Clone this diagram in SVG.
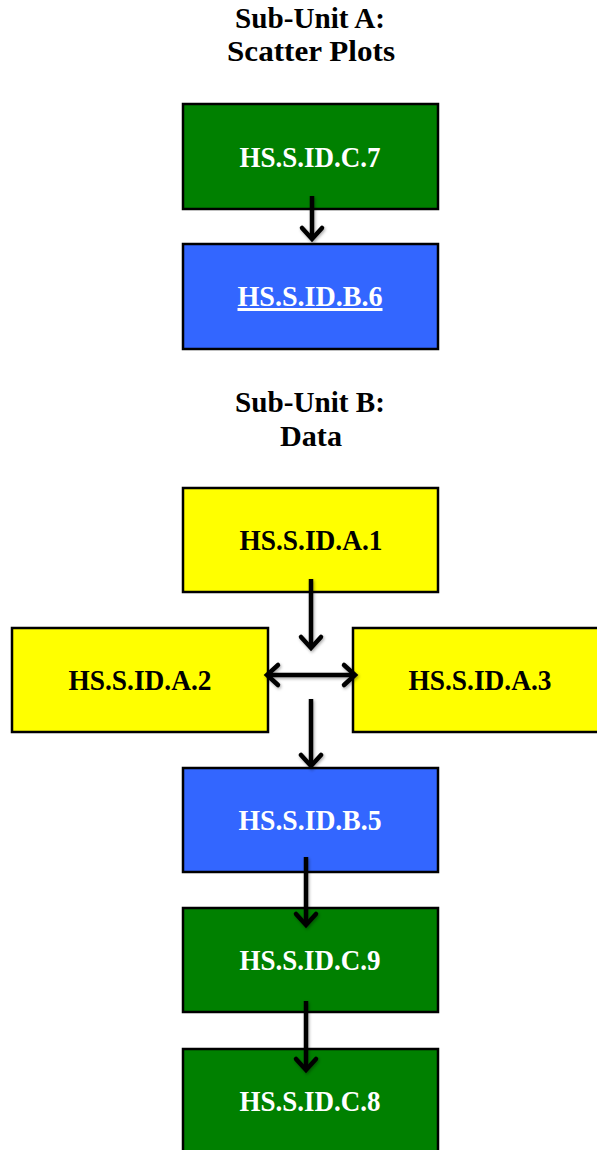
<svg xmlns="http://www.w3.org/2000/svg" width="597" height="1150" viewBox="0 0 597 1150">
  <style>
    .title { font-family: "Liberation Serif", "DejaVu Serif", serif; font-weight: bold; font-size: 29px; fill: #000; text-anchor: middle; }
    .lbl { font-family: "Liberation Serif", "DejaVu Serif", serif; font-weight: bold; font-size: 30px; text-anchor: middle; }
    .box { stroke: #000; stroke-width: 2.5; }
    .green { fill: #008000; }
    .blue { fill: #3366FF; }
    .yellow { fill: #FFFF00; }
    .w { fill: #FFFFFF; }
    .k { fill: #000000; }
    .arrow { stroke: #000; stroke-width: 4.5; fill: none; }
  </style>
  <defs>
    <filter id="shadow" x="-50%" y="-50%" width="200%" height="200%">
      <feDropShadow dx="1" dy="1.5" stdDeviation="1.5" flood-color="#000" flood-opacity="0.35"/>
    </filter>
    <marker id="head" markerUnits="userSpaceOnUse" viewBox="-16 -14 20 28" markerWidth="20" markerHeight="28" refX="0" refY="0" orient="auto-start-reverse">
      <path d="M-11,-10 L0,0 L-11,10" stroke="#000" stroke-width="4.5" fill="none" stroke-linecap="round" stroke-linejoin="miter"/>
    </marker>
  </defs>

  <g id="titleA">
    <text class="title" x="310" y="28" textLength="150" lengthAdjust="spacingAndGlyphs">Sub-Unit A:</text>
    <text class="title" x="311" y="61" textLength="168" lengthAdjust="spacingAndGlyphs">Scatter Plots</text>
  </g>
  <g id="titleB">
    <text class="title" x="310" y="412" textLength="150" lengthAdjust="spacingAndGlyphs">Sub-Unit B:</text>
    <text class="title" x="311" y="446" textLength="62" lengthAdjust="spacingAndGlyphs">Data</text>
  </g>

  <g id="n_C7">
    <rect class="box green" x="183" y="104" width="255" height="105"/>
    <text class="lbl w" x="310" y="167" textLength="141" lengthAdjust="spacingAndGlyphs">HS.S.ID.C.7</text>
  </g>
  <g id="n_B6">
    <rect class="box blue" x="183" y="244" width="255" height="105"/>
    <text class="lbl w" x="310" y="306" textLength="145" lengthAdjust="spacingAndGlyphs" text-decoration="underline">HS.S.ID.B.6</text>
  </g>
  <g id="n_A1">
    <rect class="box yellow" x="183" y="488" width="255" height="104"/>
    <text class="lbl k" x="311" y="550" textLength="143" lengthAdjust="spacingAndGlyphs">HS.S.ID.A.1</text>
  </g>
  <g id="n_A2">
    <rect class="box yellow" x="12" y="628" width="256" height="104"/>
    <text class="lbl k" x="140" y="690" textLength="143" lengthAdjust="spacingAndGlyphs">HS.S.ID.A.2</text>
  </g>
  <g id="n_A3">
    <rect class="box yellow" x="353" y="628" width="256" height="104"/>
    <text class="lbl k" x="480" y="690" textLength="143" lengthAdjust="spacingAndGlyphs">HS.S.ID.A.3</text>
  </g>
  <g id="n_B5">
    <rect class="box blue" x="183" y="768" width="255" height="104"/>
    <text class="lbl w" x="310" y="830" textLength="143" lengthAdjust="spacingAndGlyphs">HS.S.ID.B.5</text>
  </g>
  <g id="n_C9">
    <rect class="box green" x="183" y="908" width="255" height="104"/>
    <text class="lbl w" x="310" y="970" textLength="141" lengthAdjust="spacingAndGlyphs">HS.S.ID.C.9</text>
  </g>
  <g id="n_C8">
    <rect class="box green" x="183" y="1049" width="255" height="104"/>
    <text class="lbl w" x="310" y="1111" textLength="141" lengthAdjust="spacingAndGlyphs">HS.S.ID.C.8</text>
  </g>

  <g id="connectors" filter="url(#shadow)">
    <line class="arrow" x1="312" y1="196" x2="312" y2="239" marker-end="url(#head)"/>
    <line class="arrow" x1="311" y1="579" x2="311" y2="648" marker-end="url(#head)"/>
    <line class="arrow" x1="267" y1="675" x2="355" y2="675" marker-start="url(#head)" marker-end="url(#head)"/>
    <line class="arrow" x1="311" y1="699" x2="311" y2="766" marker-end="url(#head)"/>
    <line class="arrow" x1="306" y1="857" x2="306" y2="925" marker-end="url(#head)"/>
    <line class="arrow" x1="306" y1="1001" x2="306" y2="1070" marker-end="url(#head)"/>
  </g>
</svg>
